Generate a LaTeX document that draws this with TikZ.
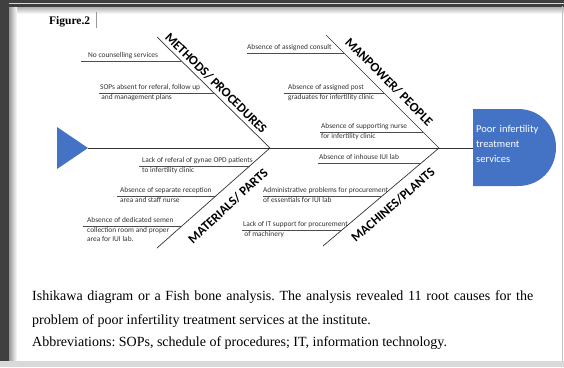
\documentclass[tikz,border=0pt]{standalone}
\usepackage{fontspec}
\setmainfont{Liberation Serif}
\newfontfamily\calibri{Carlito}
\usetikzlibrary{calc}
\definecolor{fishblue}{RGB}{68,114,196}
\frenchspacing

\begin{document}
\begin{tikzpicture}[x=1pt,y=-1pt,
    bone/.style={line width=0.7pt, black!80},
    rib/.style={line width=0.5pt, black!70},
    bonelabel/.style={font=\calibri\bfseries\fontsize{13}{15}\selectfont, inner sep=0pt},
    cause/.style={font=\calibri\fontsize{7.4}{9.6}\selectfont, anchor=base west, inner sep=0pt, text=black!80},
    caption/.style={font=\fontsize{14}{16}\selectfont, anchor=base west, inner sep=0pt}]

    \useasboundingbox (0,0) rectangle (564,367);

    % Frame
    \fill[white] (0,0) rectangle (564,367);
    \shade[top color=black!35, bottom color=white] (9,6) rectangle (564,14);
    \shade[left color=black!40, right color=white] (9,6) rectangle (17,361);
    \fill[black!75] (0,0) rectangle (564,6.5);
    \draw[black!15, line width=0.8pt] (0,3.3) -- (564,3.3);
    \fill[black!75] (0,0) rectangle (9,367);
    \fill[black!15] (0,361) rectangle (564,367);
    \draw[black!25, line width=0.8pt] (562.5,6) -- (562.5,361);

    % Title
    \node[font=\bfseries\fontsize{11.5}{13}\selectfont, anchor=base west, inner sep=0pt] (fig) at (49,24) {Figure.2};
    \draw[black!40, line width=0.5pt] (96,12) -- (96,28);

    % Tail and head
    \fill[fishblue] (57,127) -- (88,148) -- (57,169) -- cycle;
    \fill[fishblue] (473,109) -- (518,109) .. controls (540,109) and (556,126) .. (556,147.5)
        .. controls (556,169) and (540,186) .. (518,186) -- (473,186) -- cycle;
    \node[font=\calibri\fontsize{10.5}{15}\selectfont, text=white, text width=80pt, align=left,
          anchor=base west, inner sep=0pt] (effect) at (476,132) {Poor infertility\\treatment\\services};

    % Spine and bones
    \coordinate (tail) at (88,148);
    \coordinate (headL) at (473,148);
    \coordinate (j1) at (270,148);
    \coordinate (j2) at (439,148);
    \coordinate (mt) at (157,37);
    \coordinate (pt) at (326,35);
    \coordinate (at) at (157,248);
    \coordinate (ct) at (323,246);
    \draw[bone] (tail) -- (headL);
    \draw[bone] (mt) -- (j1);
    \draw[bone] (pt) -- (j2);
    \draw[bone] (at) -- (j1);
    \draw[bone] (ct) -- (j2);

    % Bone labels
    \node[bonelabel, rotate=-44.5] (methods) at (216,83) {METHODS/ PROCEDURES};
    \node[bonelabel, rotate=-45] (manpower) at (389,82) {MANPOWER/ PEOPLE};
    \node[bonelabel, rotate=43] (materials) at (228,206) {MATERIALS/ PARTS};
    \node[bonelabel, rotate=41] (machines) at (393,205) {MACHINES/PLANTS};

    % Causes
    \foreach \nm/\bs/\be/\pos/\xs/\tx/\txt in {
        m1/mt/j1/0.216/81/88/{No counselling services},
        m2/mt/j1/0.505/99/100/{SOPs absent for referal, follow up\\\,and management plans},
        p1/pt/j2/0.16/247/247/{Absence of assigned consult},
        p2/pt/j2/0.513/284/288/{Absence of assigned post\\graduates for infertility clinic},
        p3/pt/j2/0.858/320/321/{Absence of supporting nurse\\for infertility clinic},
        a1/at/j1/0.82/139/142/{Lack of referal of gynae OPD patients\\to infertility clinic},
        a2/at/j1/0.52/117/120/{Absence of separate reception\\area and staff nurse},
        a3/at/j1/0.22/83/87/{Absence of dedicated semen\\collection room and proper\\area for IUI lab.},
        c1/ct/j2/0.847/318/319/{Absence of inhouse IUI lab},
        c2/ct/j2/0.51/263/263/{Administrative problems for procurement\\of essentials for IUI lab},
        c3/ct/j2/0.163/242/243/{Lack of IT support for procurement\\\,of machinery}} {
        \coordinate (\nm) at ($(\bs)!\pos!(\be)$);
        \coordinate (u\nm) at (\xs,0 |- \nm);
        \draw[rib] (u\nm) -- (\nm);
        \node[cause] (t\nm) at (\tx,0 |- \nm) [yshift=3.5pt] {\begin{tabular}[t]{@{}l@{}}\txt\end{tabular}};
    }

    % Caption
    \node[caption] (cap1) at (32,300) {\hbox to 501pt{Ishikawa diagram or a Fish bone analysis. The analysis revealed 11 root causes for the}};
    \node[caption] (cap2) at (32,324) {problem of poor infertility treatment services at the institute.};
    \node[caption] (cap3) at (32,346) {Abbreviations: SOPs, schedule of procedures; IT, information technology.};

\end{tikzpicture}
\end{document}
